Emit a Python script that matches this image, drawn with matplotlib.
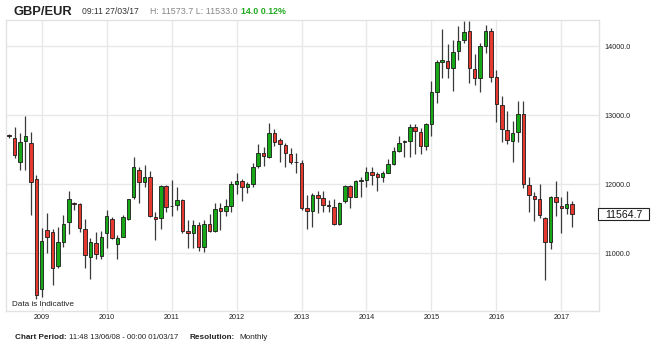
import matplotlib
matplotlib.use('Agg')
import matplotlib.pyplot as plt
import matplotlib.patches as mpatches
import numpy as np

plt.rcParams['font.family'] = ['Liberation Sans', 'DejaVu Sans']

# ---------------- data (monthly GBP/EUR x10000) ----------------
dates = [
    '2008-07', '2008-08', '2008-09', '2008-10', '2008-11', '2008-12',
    '2009-01', '2009-02', '2009-03', '2009-04', '2009-05', '2009-06',
    '2009-07', '2009-08', '2009-09', '2009-10', '2009-11', '2009-12',
    '2010-01', '2010-02', '2010-03', '2010-04', '2010-05', '2010-06',
    '2010-07', '2010-08', '2010-09', '2010-10', '2010-11', '2010-12',
    '2011-01', '2011-02', '2011-03', '2011-04', '2011-05', '2011-06',
    '2011-07', '2011-08', '2011-09', '2011-10', '2011-11', '2011-12',
    '2012-01', '2012-02', '2012-03', '2012-04', '2012-05', '2012-06',
    '2012-07', '2012-08', '2012-09', '2012-10', '2012-11', '2012-12',
    '2013-01', '2013-02', '2013-03', '2013-04', '2013-05', '2013-06',
    '2013-07', '2013-08', '2013-09', '2013-10', '2013-11', '2013-12',
    '2014-01', '2014-02', '2014-03', '2014-04', '2014-05', '2014-06',
    '2014-07', '2014-08', '2014-09', '2014-10', '2014-11', '2014-12',
    '2015-01', '2015-02', '2015-03', '2015-04', '2015-05', '2015-06',
    '2015-07', '2015-08', '2015-09', '2015-10', '2015-11', '2015-12',
    '2016-01', '2016-02', '2016-03', '2016-04', '2016-05', '2016-06',
    '2016-07', '2016-08', '2016-09', '2016-10', '2016-11', '2016-12',
    '2017-01', '2017-02', '2017-03',
]
opens = [
    12715, 12673, 12321, 12625, 12592, 12076,
    10484, 11333, 11313, 10821, 11160, 11449,
    11730, 11709, 11352, 10943, 11154, 10961,
    11290, 11501, 11135, 11241, 11492, 11811,
    12210, 12032, 12100, 11530, 11516, 11974,
    11680, 11695, 11772, 11328, 11290, 11410,
    11087, 11420, 11323, 11660, 11612, 11685,
    12001, 12047, 11955, 12001, 12264, 12447,
    12390, 12737, 12640, 12567, 12437, 12326,
    12311, 11660, 11617, 11844, 11796, 11699,
    11675, 11424, 11761, 11974, 11820, 12047,
    12057, 12181, 12143, 12100, 12167, 12293,
    12485, 12618, 12630, 12828, 12760, 12557,
    12871, 13339, 13773, 13787, 13686, 13932,
    14087, 14221, 13667, 13533, 14000, 14221,
    13556, 13146, 12785, 12630, 12751, 13012,
    11989, 11830, 11782, 11507, 11168, 11811,
    11689, 11660, 11709,
]
highs = [
    12725, 12832, 12737, 12991, 12751, 12138,
    11362, 11579, 11348, 11385, 11555, 11906,
    11747, 11724, 11492, 11226, 11313, 11323,
    11627, 11521, 11270, 11555, 11791, 12389,
    12254, 12278, 12191, 11594, 11989, 11989,
    12061, 11955, 11790, 11482, 11482, 11458,
    11482, 11565, 11724, 11724, 11782, 12047,
    12167, 12071, 12036, 12303, 12578, 12543,
    12881, 12795, 12673, 12601, 12520, 12447,
    12350, 11844, 11877, 11906, 11906, 11772,
    11791, 11747, 11989, 11989, 12061, 12109,
    12254, 12254, 12181, 12191, 12361, 12543,
    12702, 12640, 12871, 12867, 12818, 12881,
    13494, 13797, 14246, 14029, 14087, 14294,
    14362, 14362, 13880, 14039, 14304, 14256,
    13653, 13277, 13059, 12919, 13208, 13208,
    12109, 11892, 11999, 11530, 11830, 12047,
    11811, 11902, 11757,
]
lows = [
    12665, 12384, 12206, 12206, 11550, 10335,
    10364, 11009, 10537, 10783, 11096, 11280,
    11627, 11313, 10783, 10633, 10922, 10922,
    11073, 11203, 10922, 11230, 11482, 11786,
    11724, 11955, 11521, 11193, 11348, 11602,
    11540, 11627, 11290, 11073, 11073, 11038,
    11024, 11313, 11313, 11337, 11540, 11602,
    11854, 11761, 11877, 11964, 12230, 12264,
    12375, 12553, 12326, 12254, 12293, 12158,
    11627, 11348, 11377, 11588, 11602, 11602,
    11410, 11410, 11724, 11650, 11810, 11820,
    11964, 11989, 11906, 12036, 12158, 12278,
    12462, 12398, 12398, 12433, 12433, 12495,
    12702, 13171, 13533, 13541, 13353, 13797,
    14039, 13460, 13436, 13339, 13894, 13483,
    12896, 12615, 12582, 12326, 12615, 11941,
    11602, 11472, 11507, 10614, 11058, 11540,
    11298, 11569, 11385,
]
closes = [
    12705, 12418, 12615, 12698, 12032, 10397,
    11178, 11241, 10792, 11160, 11420, 11782,
    11718, 11371, 10971, 11160, 10986, 11231,
    11540, 11217, 11222, 11530, 11782, 12245,
    12028, 12100, 11544, 11492, 11979, 11675,
    11690, 11772, 11328, 11290, 11406, 11087,
    11420, 11323, 11637, 11612, 11685, 12001,
    12047, 11955, 12001, 12254, 12447, 12408,
    12737, 12615, 12578, 12447, 12326, 12320,
    11660, 11617, 11844, 11796, 11699, 11685,
    11424, 11724, 11974, 11820, 12047, 12055,
    12181, 12133, 12100, 12158, 12288, 12485,
    12601, 12625, 12824, 12774, 12557, 12867,
    13330, 13773, 13797, 13686, 13918, 14077,
    14207, 13677, 13533, 14000, 14221, 13556,
    13156, 12795, 12640, 12737, 13012, 11999,
    11844, 11786, 11555, 11168, 11811, 11738,
    11660, 11709, 11565,
]
year_ticks = [2009, 2010, 2011, 2012, 2013, 2014, 2015, 2016, 2017]
price_ticks = [11000, 12000, 13000, 14000]
last_price = '11564.7'

# ---------------- figure ----------------
W, H = 660, 350
fig = plt.figure(figsize=(W / 100, H / 100), dpi=100)
fig.patch.set_facecolor('white')

L, R, T, B = 6, 599, 19.5, 311
ax = fig.add_axes([L / W, 1 - B / H, (R - L) / W, (B - T) / H])

x = np.array([int(d[:4]) + (int(d[5:7]) - 1) / 12.0 for d in dates])
o = np.array(opens, float)
h = np.array(highs, float)
l = np.array(lows, float)
c = np.array(closes, float)

green = '#17a817'
red = '#e5392f'
cols = np.where(c >= o, green, red)

ax.vlines(x, l, h, color='#3a3a3a', lw=0.9, zorder=2)
ax.bar(x, np.maximum(np.abs(c - o), 1.0), bottom=np.minimum(o, c), width=0.054,
       color=cols, edgecolor='#1a1a1a', linewidth=0.6, zorder=3)

ax.set_xlim(2008.45, 2017.58)
ax.set_ylim(10165, 14386)
ax.set_xticks(year_ticks)
ax.set_xticklabels([str(y) for y in year_ticks])
ax.set_yticks(price_ticks)
ax.set_yticklabels(['%.1f' % p for p in price_ticks])
ax.yaxis.tick_right()
ax.tick_params(axis='both', length=0, labelsize=5.2, colors='#222222')
ax.tick_params(axis='y', pad=4)
ax.tick_params(axis='x', pad=2.5)
ax.grid(True, color='#e8e8e8', lw=1.0, zorder=0)
ax.set_axisbelow(True)
for s in ax.spines.values():
    s.set_color('#e2e2e2')
    s.set_linewidth(1.0)

fig.text(11.7 / W, 1 - 306.5 / H, 'Data is Indicative', fontsize=5.9,
         color='#222222', va='baseline', ha='left')

# last-price box
fig.patches.append(mpatches.Rectangle((598 / W, 1 - 220 / H), 51 / W, 12.3 / H,
                                      transform=fig.transFigure, fc='white',
                                      ec='#222222', lw=0.8, zorder=5))
fig.text(623.5 / W, 1 - 217.8 / H, last_price, fontsize=7.6, color='#111111',
         ha='center', va='baseline', zorder=6)

# header
fig.text(13.3 / W, 1 - 15 / H, 'GBP/EUR', fontsize=9.3, fontweight='bold',
         color='#222222', va='baseline')
fig.text(81.7 / W, 1 - 14 / H, '09:11 27/03/17', fontsize=6.2, color='#333333',
         va='baseline')
fig.text(150 / W, 1 - 14 / H, 'H: 11573.7 L: 11533.0', fontsize=6.4,
         color='#858585', va='baseline')
fig.text(241 / W, 1 - 14 / H, '14.0 0.12%', fontsize=6.4, fontweight='bold',
         color='#22aa22', va='baseline')

# footer
fy = 1 - 339.3 / H
fig.text(15.4 / W, fy, 'Chart Period:', fontsize=5.9, fontweight='bold',
         color='#222222', va='baseline')
fig.text(69.0 / W, fy, '11:48 13/06/08 - 00:00 01/03/17', fontsize=5.6,
         color='#222222', va='baseline')
fig.text(189.6 / W, fy, 'Resolution:', fontsize=5.9, fontweight='bold',
         color='#222222', va='baseline')
fig.text(239.6 / W, fy, 'Monthly', fontsize=5.9, color='#222222', va='baseline')

fig.savefig('out.png', dpi=100)
